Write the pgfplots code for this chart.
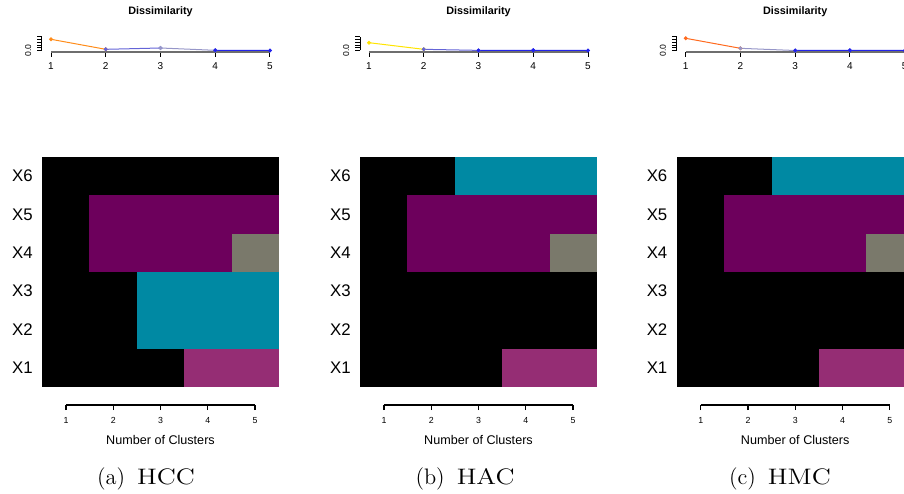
\documentclass[border=0pt]{standalone}
\usepackage{graphicx}
\usepackage{pgfplots}
\pgfplotsset{compat=1.18}
\usepackage{fontspec}
\newfontfamily\arial{Liberation Sans}

\definecolor{segA1}{RGB}{255,140,26}
\definecolor{segB1}{RGB}{255,228,0}
\definecolor{segC1}{RGB}{255,106,30}
\definecolor{segmid}{RGB}{100,100,215}
\definecolor{segfade}{RGB}{150,150,200}
\definecolor{segblue}{RGB}{35,35,235}
\definecolor{axgray}{RGB}{110,110,110}
% cluster colours
\definecolor{cpurple}{RGB}{109,0,92}
\definecolor{cteal}{RGB}{0,137,163}
\definecolor{cgrey}{RGB}{122,121,107}
\definecolor{cmagenta}{RGB}{149,45,116}

\newcommand{\subcap}[2]{(#1)\hspace{6pt}\scalebox{1.2}[1]{#2}}

\pgfplotsset{
  heat/.style={
    scale only axis, anchor=south west,
    width=118.5pt, height=115pt,
    xmin=0.5, xmax=5.5, ymin=0.5, ymax=6.5,
    axis line style={draw=none},
    xtick=\empty,
    ytick={1,2,3,4,5,6},
    yticklabels={X1,X2,X3,X4,X5,X6},
    major tick length=0pt,
    yticklabel style={font=\arial\fontsize{8.4}{10}\selectfont, inner sep=0pt, anchor=east, xshift=-4.5pt},
  },
  heatx/.style={
    scale only axis, anchor=south west,
    width=94.5pt, height=1pt,
    xmin=1, xmax=5, ymin=0, ymax=1,
    axis x line*=bottom, axis y line=none, ytick=\empty,
    x axis line style={line width=0.6pt},
    xtick={1,2,3,4,5},
    xtick align=outside, major tick length=2.5pt,
    xtick style={line width=0.6pt, black},
    /pgf/number format/assume math mode=true,
    xticklabel style={font=\arial\fontsize{4.4}{5}\selectfont, inner sep=0pt, anchor=north, yshift=-3.5pt},
    xlabel={Number of Clusters},
    xlabel style={font=\arial\fontsize{6.3}{7}\selectfont, inner sep=0pt, at={(axis description cs:0.5,0)}, anchor=north, yshift=-15pt},
  },
  topdata/.style={
    scale only axis, anchor=south west,
    width=109.5pt, height=7.35pt,
    xmin=1, xmax=5, ymin=-0.044, ymax=0.5,
    clip=false,
    axis x line*=bottom, axis y line=none, ytick=\empty,
    x axis line style={line width=0.9pt, axgray},
    xtick={1,2,3,4,5},
    xtick align=outside, major tick length=2.5pt,
    xtick style={line width=0.5pt, black},
    /pgf/number format/assume math mode=true,
    xticklabel style={font=\arial\fontsize{5}{6}\selectfont, inner sep=0pt, anchor=north, yshift=-2.9pt},
    title={Dissimilarity},
    title style={font=\arial\bfseries\fontsize{5.4}{6}\selectfont, inner sep=0pt, at={(axis description cs:0.5,1)}, anchor=base, yshift=5.5pt},
    every axis plot/.append style={line width=0.5pt, mark=*, mark size=0.7pt},
  },
  topy/.style={
    scale only axis, anchor=south west,
    width=1pt, height=6.75pt,
    xmin=0, xmax=1, ymin=0, ymax=0.5,
    axis y line*=left, axis x line=none, xtick=\empty,
    y axis line style={line width=0.5pt},
    ytick={0,0.1,0.2,0.3,0.4,0.5},
    yticklabels={0.0,,,,,},
    ytick align=outside, major tick length=2.35pt,
    ytick style={line width=0.5pt, black},
    yticklabel style={font=\arial\fontsize{4.3}{5}\selectfont, inner xsep=0pt, inner ysep=2.8pt, rotate=90, anchor=south},
  },
  cell/.style={draw=none, fill=#1},
}

\begin{document}
\begin{tikzpicture}
\useasboundingbox (0,0) rectangle (452pt,246.5pt);

% ================= (a) HCC =================
\begin{axis}[topy, at={(21pt,221.25pt)}]
\end{axis}
\begin{axis}[topdata, at={(25.5pt,220.65pt)}]
\addplot[segA1, mark options={fill=segA1}] coordinates {(1,0.415) (2,0.044)};
\addplot[segmid, mark options={fill=segmid}] coordinates {(2,0.044) (3,0.093)};
\addplot[segfade, mark options={fill=segfade}] coordinates {(3,0.093) (4,0.007)};
\addplot[segblue, mark options={fill=segblue}] coordinates {(4,0.007) (5,0.0)};
\end{axis}
\begin{axis}[heat, at={(21pt,53pt)}]
% cluster membership: rows X1..X6 (y), columns = number of clusters 1..5 (x)
\addplot[cell=black]    coordinates {(0.5,0.5) (5.5,0.5) (5.5,6.5) (0.5,6.5)} -- cycle;
\addplot[cell=cpurple]  coordinates {(1.5,3.5) (5.5,3.5) (5.5,5.5) (1.5,5.5)} -- cycle;
\addplot[cell=cgrey]    coordinates {(4.5,3.5) (5.5,3.5) (5.5,4.5) (4.5,4.5)} -- cycle;
\addplot[cell=cteal]    coordinates {(2.5,1.5) (5.5,1.5) (5.5,3.5) (2.5,3.5)} -- cycle;
\addplot[cell=cmagenta] coordinates {(3.5,0.5) (5.5,0.5) (5.5,1.5) (3.5,1.5)} -- cycle;
\end{axis}
\begin{axis}[heatx, at={(33pt,44pt)}]
\end{axis}
\node[anchor=base, font=\fontsize{11.2}{13}\selectfont] at (73pt,4.4pt) {\subcap{a}{HCC}};

% ================= (b) HAC =================
\begin{axis}[topy, at={(180pt,221.25pt)}]
\end{axis}
\begin{axis}[topdata, at={(184.5pt,220.65pt)}]
\addplot[segB1, mark options={fill=segB1}] coordinates {(1,0.289) (2,0.044)};
\addplot[segmid, mark options={fill=segmid}] coordinates {(2,0.044) (3,0.005)};
\addplot[segblue, mark options={fill=segblue}] coordinates {(3,0.005) (4,0.007)};
\addplot[segblue, mark options={fill=segblue}] coordinates {(4,0.007) (5,0.0)};
\end{axis}
\begin{axis}[heat, at={(180pt,53pt)}]
\addplot[cell=black]    coordinates {(0.5,0.5) (5.5,0.5) (5.5,6.5) (0.5,6.5)} -- cycle;
\addplot[cell=cteal]    coordinates {(2.5,5.5) (5.5,5.5) (5.5,6.5) (2.5,6.5)} -- cycle;
\addplot[cell=cpurple]  coordinates {(1.5,3.5) (5.5,3.5) (5.5,5.5) (1.5,5.5)} -- cycle;
\addplot[cell=cgrey]    coordinates {(4.5,3.5) (5.5,3.5) (5.5,4.5) (4.5,4.5)} -- cycle;
\addplot[cell=cmagenta] coordinates {(3.5,0.5) (5.5,0.5) (5.5,1.5) (3.5,1.5)} -- cycle;
\end{axis}
\begin{axis}[heatx, at={(192pt,44pt)}]
\end{axis}
\node[anchor=base, font=\fontsize{11.2}{13}\selectfont] at (232.5pt,4.4pt) {\subcap{b}{HAC}};

% ================= (c) HMC =================
\begin{axis}[topy, at={(338.35pt,221.25pt)}]
\end{axis}
\begin{axis}[topdata, at={(342.85pt,220.65pt)}]
\addplot[segC1, mark options={fill=segC1}] coordinates {(1,0.452) (2,0.081)};
\addplot[segfade, mark options={fill=segfade}] coordinates {(2,0.081) (3,0.0)};
\addplot[segblue, mark options={fill=segblue}] coordinates {(3,0.0) (4,0.007)};
\addplot[segblue, mark options={fill=segblue}] coordinates {(4,0.007) (5,0.0)};
\end{axis}
\begin{axis}[heat, at={(338.35pt,53pt)}]
\addplot[cell=black]    coordinates {(0.5,0.5) (5.5,0.5) (5.5,6.5) (0.5,6.5)} -- cycle;
\addplot[cell=cteal]    coordinates {(2.5,5.5) (5.5,5.5) (5.5,6.5) (2.5,6.5)} -- cycle;
\addplot[cell=cpurple]  coordinates {(1.5,3.5) (5.5,3.5) (5.5,5.5) (1.5,5.5)} -- cycle;
\addplot[cell=cgrey]    coordinates {(4.5,3.5) (5.5,3.5) (5.5,4.5) (4.5,4.5)} -- cycle;
\addplot[cell=cmagenta] coordinates {(3.5,0.5) (5.5,0.5) (5.5,1.5) (3.5,1.5)} -- cycle;
\end{axis}
\begin{axis}[heatx, at={(350.35pt,44pt)}]
\end{axis}
\node[anchor=base, font=\fontsize{11.2}{13}\selectfont] at (390pt,4.4pt) {\subcap{c}{HMC}};
\end{tikzpicture}
\end{document}
